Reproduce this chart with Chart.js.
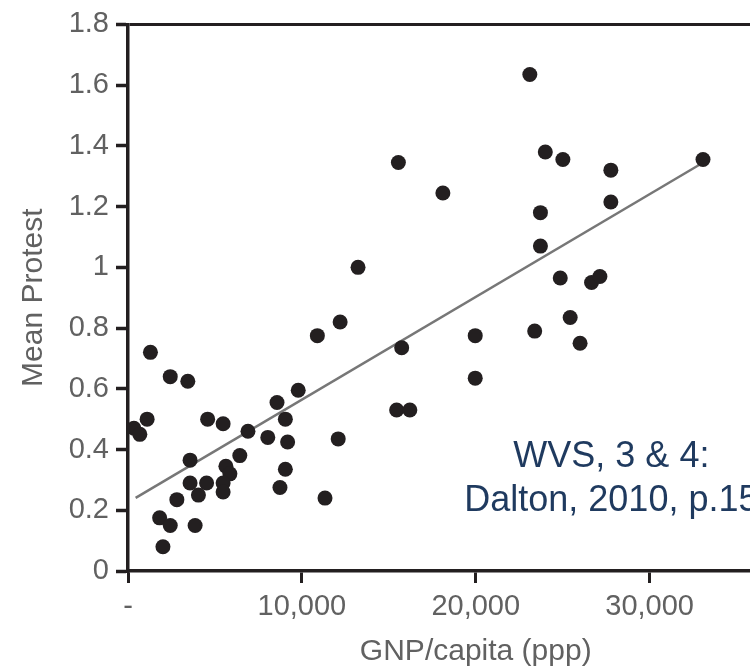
<!DOCTYPE html>
<html>
<head>
<meta charset="utf-8">
<title>Mean Protest by GNP/capita</title>
<script src="https://cdn.jsdelivr.net/npm/chart.js@4.4.1/dist/chart.umd.min.js"></script>
<style>
    html, body { margin: 0; padding: 0; overflow: hidden; background: #fff; }
    #wrap { position: relative; width: 831px; height: 670px; }
</style>
</head>
<body>
<div id="wrap"><canvas id="protest_chart"></canvas></div>
<script>
// GNP per capita (ppp) and mean protest, one entry per country
var gnpValues = [
    1290, 2430, 3440, 1100, 340, 680, 4580, 5470, 9050, 6900,
    8040, 9180, 12090, 9790, 8570, 10890, 12200, 13230, 15550, 18110,
    19970, 15740, 19970, 15450, 16210, 3570, 6430, 5630, 5860, 9050,
    3570, 4520, 5470, 5470, 4050, 8740, 2810, 11330, 1820, 2430,
    3860, 2010, 23110, 24000, 25010, 27770, 27770, 33070, 23720, 23720,
    24860, 26660, 27140, 25430, 23390, 26000
];
var protestValues = [
    0.72, 0.64, 0.625, 0.50, 0.47, 0.45, 0.50, 0.485, 0.50, 0.46,
    0.44, 0.425, 0.435, 0.595, 0.555, 0.775, 0.82, 1.00, 1.345, 1.245,
    0.775, 0.735, 0.635, 0.53, 0.53, 0.365, 0.38, 0.345, 0.32, 0.335,
    0.29, 0.29, 0.29, 0.26, 0.25, 0.275, 0.235, 0.24, 0.175, 0.15,
    0.15, 0.08, 1.635, 1.38, 1.355, 1.32, 1.215, 1.355, 1.18, 1.07,
    0.965, 0.95, 0.97, 0.835, 0.79, 0.75
];

// fitted regression line (end points)
var fitX = [440, 32840];
var fitY = [0.241, 1.337];

var xTickValues = [0, 10000, 20000, 30000];
var xTickLabels = ['-', '10,000', '20,000', '30,000'];
var yTickValues = [0, 0.2, 0.4, 0.6, 0.8, 1, 1.2, 1.4, 1.6, 1.8];
var yTickLabels = ['0', '0.2', '0.4', '0.6', '0.8', '1', '1.2', '1.4', '1.6', '1.8'];

var noteLines = ['WVS, 3 & 4:', 'Dalton, 2010, p.15'];

var ink = '#231f20';
var labelGrey = '#616161';
var fontFamily = '"Liberation Sans", Arial, sans-serif';

// source note written inside the plot
var notePlugin = {
    id: 'sourceNote',
    afterDatasetsDraw: function (chart) {
        var ctx = chart.ctx;
        var x = chart.scales.x;
        var y = chart.scales.y;
        var baselines = [0.342, 0.197];
        ctx.save();
        ctx.font = '36px ' + fontFamily;
        ctx.fillStyle = '#1f3a5f';
        ctx.textAlign = 'center';
        ctx.textBaseline = 'alphabetic';
        noteLines.forEach(function (line, i) {
            ctx.fillText(line, x.getPixelForValue(27800), y.getPixelForValue(baselines[i]));
        });
        ctx.restore();
    }
};

var points = gnpValues.map(function (v, i) { return {x: v, y: protestValues[i]}; });
var fitPoints = fitX.map(function (v, i) { return {x: v, y: fitY[i]}; });

var ctxProtest = document.getElementById('protest_chart').getContext('2d');

var protestChart = new Chart(ctxProtest, {
    type: 'scatter',
    data: {
        datasets: [
            {
                label: 'Countries',
                data: points,
                backgroundColor: ink,
                borderWidth: 0,
                pointRadius: 7.5,
                order: 1
            },
            {
                type: 'line',
                label: 'Fit',
                data: fitPoints,
                borderColor: '#777777',
                borderWidth: 2.5,
                pointRadius: 0,
                fill: false,
                order: 2
            }
        ]
    },
    options: {
        responsive: true,
        maintainAspectRatio: false,
        animation: false,
        layout: {
            padding: {top: 23, left: 0, right: 0, bottom: 0}
        },
        plugins: {
            legend: {display: false},
            tooltip: {enabled: false}
        },
        scales: {
            x: {
                type: 'linear',
                min: 0,
                max: 40000,
                afterBuildTicks: function (scale) {
                    scale.ticks = xTickValues.map(function (v) { return {value: v}; });
                },
                afterFit: function (scale) {
                    scale.height = 99;
                },
                ticks: {
                    color: labelGrey,
                    padding: 7,
                    font: {family: fontFamily, size: 29},
                    callback: function (value, index) { return xTickLabels[index]; }
                },
                grid: {
                    drawOnChartArea: false,
                    tickLength: 12,
                    tickWidth: 3,
                    tickColor: ink
                },
                border: {display: true, color: ink, width: 3.5},
                title: {
                    display: true,
                    text: 'GNP/capita (ppp)',
                    color: labelGrey,
                    font: {family: fontFamily, size: 30},
                    padding: {top: 0, bottom: 0}
                }
            },
            y: {
                type: 'linear',
                min: 0,
                max: 1.8,
                afterBuildTicks: function (scale) {
                    scale.ticks = yTickValues.map(function (v) { return {value: v}; });
                },
                afterFit: function (scale) {
                    scale.width = 128;
                },
                ticks: {
                    color: labelGrey,
                    padding: 7,
                    font: {family: fontFamily, size: 29},
                    callback: function (value, index) { return yTickLabels[index]; }
                },
                grid: {
                    // only the top line is drawn across, as a frame
                    color: function (c) { return c.tick && c.tick.value === 1.8 ? ink : 'rgba(0,0,0,0)'; },
                    lineWidth: 3,
                    tickLength: 12,
                    tickWidth: 3.5,
                    tickColor: ink
                },
                border: {display: true, color: ink, width: 3.5},
                title: {
                    display: true,
                    text: 'Mean Protest',
                    color: labelGrey,
                    font: {family: fontFamily, size: 30},
                    padding: {top: 16, bottom: 0}
                }
            }
        }
    },
    plugins: [notePlugin]
});
</script>
</body>
</html>
